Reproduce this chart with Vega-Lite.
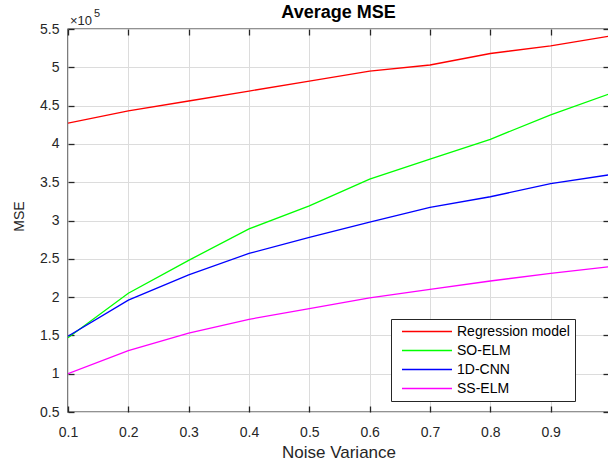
{
  "$schema": "https://vega.github.io/schema/vega-lite/v6.json",
  "width": 541,
  "height": 383,
  "autosize": {"type": "none"},
  "padding": {"left": 68, "top": 29, "right": 0, "bottom": 51},
  "background": "white",
  "title": {"text": "Average MSE", "font": "Liberation Sans", "fontSize": 18, "fontWeight": "bold", "color": "#000000", "offset": -14, "anchor": "middle", "frame": "group"},
  "config": {
    "view": {"stroke": "#262626", "strokeWidth": 1.4},
    "axis": {"labelFont": "Liberation Sans", "labelColor": "#262626", "titleFont": "Liberation Sans", "titleColor": "#262626", "titleFontWeight": "normal", "tickColor": "#262626", "tickWidth": 1.3, "gridColor": "#dcdcdc", "gridWidth": 1, "labelFlush": false}
  },
  "datasets": {
    "mse": [
      {"x": 0.1, "series": "Regression model", "mse": 4.27},
      {"x": 0.2, "series": "Regression model", "mse": 4.43},
      {"x": 0.3, "series": "Regression model", "mse": 4.56},
      {"x": 0.4, "series": "Regression model", "mse": 4.69},
      {"x": 0.5, "series": "Regression model", "mse": 4.82},
      {"x": 0.6, "series": "Regression model", "mse": 4.95},
      {"x": 0.7, "series": "Regression model", "mse": 5.03},
      {"x": 0.8, "series": "Regression model", "mse": 5.18},
      {"x": 0.9, "series": "Regression model", "mse": 5.28},
      {"x": 1.0, "series": "Regression model", "mse": 5.41},
      {"x": 0.1, "series": "SO-ELM", "mse": 1.47},
      {"x": 0.2, "series": "SO-ELM", "mse": 2.05},
      {"x": 0.3, "series": "SO-ELM", "mse": 2.48},
      {"x": 0.4, "series": "SO-ELM", "mse": 2.89},
      {"x": 0.5, "series": "SO-ELM", "mse": 3.19},
      {"x": 0.6, "series": "SO-ELM", "mse": 3.54},
      {"x": 0.7, "series": "SO-ELM", "mse": 3.80},
      {"x": 0.8, "series": "SO-ELM", "mse": 4.06},
      {"x": 0.9, "series": "SO-ELM", "mse": 4.38},
      {"x": 1.0, "series": "SO-ELM", "mse": 4.66},
      {"x": 0.1, "series": "1D-CNN", "mse": 1.49},
      {"x": 0.2, "series": "1D-CNN", "mse": 1.96},
      {"x": 0.3, "series": "1D-CNN", "mse": 2.29},
      {"x": 0.4, "series": "1D-CNN", "mse": 2.57},
      {"x": 0.5, "series": "1D-CNN", "mse": 2.78},
      {"x": 0.6, "series": "1D-CNN", "mse": 2.98},
      {"x": 0.7, "series": "1D-CNN", "mse": 3.17},
      {"x": 0.8, "series": "1D-CNN", "mse": 3.31},
      {"x": 0.9, "series": "1D-CNN", "mse": 3.48},
      {"x": 1.0, "series": "1D-CNN", "mse": 3.60},
      {"x": 0.1, "series": "SS-ELM", "mse": 1.0},
      {"x": 0.2, "series": "SS-ELM", "mse": 1.30},
      {"x": 0.3, "series": "SS-ELM", "mse": 1.53},
      {"x": 0.4, "series": "SS-ELM", "mse": 1.71},
      {"x": 0.5, "series": "SS-ELM", "mse": 1.85},
      {"x": 0.6, "series": "SS-ELM", "mse": 1.99},
      {"x": 0.7, "series": "SS-ELM", "mse": 2.10},
      {"x": 0.8, "series": "SS-ELM", "mse": 2.21},
      {"x": 0.9, "series": "SS-ELM", "mse": 2.31},
      {"x": 1.0, "series": "SS-ELM", "mse": 2.40}
    ]
  },
  "layer": [
    {
      "data": {"name": "mse"},
      "mark": {"type": "line", "strokeWidth": 1.3, "clip": true},
      "encoding": {
        "x": {"field": "x", "type": "quantitative",
          "scale": {"domain": [0.1, 0.9967], "nice": false, "zero": false},
          "axis": {"orient": "bottom", "values": [0.1, 0.2, 0.3, 0.4, 0.5, 0.6, 0.7, 0.8, 0.9], "format": "~g", "domain": false, "tickSize": -6, "labelFontSize": 14, "labelPadding": 19, "grid": true, "title": "Noise Variance", "titleFontSize": 17, "titleY": 40, "titleBaseline": "middle"}},
        "y": {"field": "mse", "type": "quantitative",
          "scale": {"domain": [0.5, 5.5], "nice": false, "zero": false},
          "axis": {"orient": "left", "values": [0.5, 1, 1.5, 2, 2.5, 3, 3.5, 4, 4.5, 5, 5.5], "format": "~g", "domain": false, "tickSize": -6, "labelFontSize": 14, "labelPadding": 15, "grid": true, "title": "MSE", "titleFontSize": 14, "titleX": -49, "titleY": 187, "titleAngle": -90, "titleAlign": "center", "titleBaseline": "middle"}},
        "color": {"field": "series", "type": "nominal",
          "scale": {"domain": ["Regression model", "SO-ELM", "1D-CNN", "SS-ELM"], "range": ["#ff0000", "#00ff00", "#0000ff", "#ff00ff"]},
          "legend": {"orient": "none", "legendX": 323, "legendY": 290, "title": null, "symbolType": "stroke", "symbolSize": 2500, "symbolStrokeWidth": 1.6, "labelFont": "Liberation Sans", "labelFontSize": 14, "labelColor": "#000000", "strokeColor": "#262626", "fillColor": "white", "padding": 5, "clipHeight": 15, "rowPadding": 4, "labelOffset": 4, "symbolOffset": 5, "labelLimit": 300}}
      }
    },
    {
      "data": {"values": [{"label": "×10"}]},
      "mark": {"type": "text", "align": "left", "baseline": "alphabetic", "dx": 2, "dy": -4, "font": "Liberation Sans", "fontSize": 13, "color": "#262626"},
      "encoding": {
        "x": {"datum": 0.1, "type": "quantitative", "axis": {"orient": "top", "values": [0.1, 0.2, 0.3, 0.4, 0.5, 0.6, 0.7, 0.8, 0.9], "labels": false, "title": null, "domain": false, "grid": false, "tickSize": -6}},
        "y": {"datum": 5.5, "type": "quantitative", "axis": {"orient": "right", "values": [0.5, 1, 1.5, 2, 2.5, 3, 3.5, 4, 4.5, 5, 5.5], "labels": false, "title": null, "domain": false, "grid": false, "tickSize": -6}},
        "text": {"field": "label"}
      }
    },
    {
      "data": {"values": [{"label": "5"}]},
      "mark": {"type": "text", "align": "left", "baseline": "alphabetic", "dx": 26, "dy": -12, "font": "Liberation Sans", "fontSize": 11, "color": "#262626"},
      "encoding": {
        "x": {"datum": 0.1, "type": "quantitative", "axis": null},
        "y": {"datum": 5.5, "type": "quantitative", "axis": null},
        "text": {"field": "label"}
      }
    }
  ],
  "resolve": {"axis": {"x": "independent", "y": "independent"}}
}
